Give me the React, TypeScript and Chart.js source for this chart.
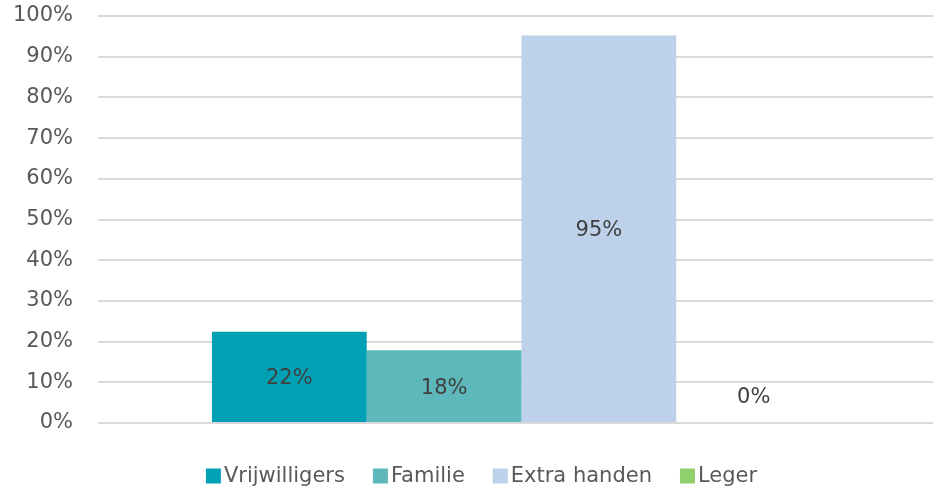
import React, { useEffect, useRef } from "react";
import { Chart, registerables } from "chart.js";

Chart.register(...registerables);

const categories = [""];
const seriesNames = ["Vrijwilligers", "Familie", "Extra handen", "Leger"];
const seriesValues = [22.4, 17.9, 95.2, 0];
const seriesLabels = ["22%", "18%", "95%", "0%"];
const seriesColors = ["#00A1B5", "#5DB7BB", "#BDD1EA", "#92D06E"];
const yTicks = [0, 10, 20, 30, 40, 50, 60, 70, 80, 90, 100];

const FONT = "'DejaVu Sans', Verdana, sans-serif";
const FONT_SIZE = 21;
const VIEW_W = 933;
const CANVAS_W = 945;
const H = 492;

const labelPlugin = {
  id: "barLabels",
  afterDatasetsDraw(chart: any) {
    const ctx = chart.ctx;
    ctx.save();
    ctx.font = `${FONT_SIZE}px ${FONT}`;
    ctx.fillStyle = "#404040";
    ctx.textAlign = "center";
    ctx.textBaseline = "middle";
    chart.data.datasets.forEach((ds: any, i: number) => {
      const meta = chart.getDatasetMeta(i);
      meta.data.forEach((bar: any) => {
        const { x, y, base } = bar.getProps(["x", "y", "base"], true);
        let cy = (y + base) / 2 + 2;
        if (base - y < 50) cy = Math.min(cy, base - 25);
        ctx.fillText(seriesLabels[i], x, cy);
      });
    });
    ctx.restore();
  },
};

const legendPlugin = {
  id: "bottomLegend",
  afterDraw(chart: any) {
    const ctx = chart.ctx;
    ctx.save();
    ctx.font = `${FONT_SIZE}px ${FONT}`;
    ctx.textBaseline = "middle";
    ctx.textAlign = "left";
    const box = 15;
    const gapBoxText = 3;
    const gapItems = 28;
    const items = chart.data.datasets.map((ds: any) => ({
      label: ds.label,
      color: ds.backgroundColor,
      w: ctx.measureText(ds.label).width,
    }));
    const total =
      items.reduce((s: number, it: any) => s + box + gapBoxText + it.w, 0) +
      gapItems * (items.length - 1);
    let x = VIEW_W / 2 + 15 - total / 2;
    const cy = 476;
    items.forEach((it: any) => {
      ctx.fillStyle = it.color;
      ctx.fillRect(x, cy - box / 2, box, box);
      x += box + gapBoxText;
      ctx.fillStyle = "#595959";
      ctx.fillText(it.label, x, cy + 1);
      x += it.w + gapItems;
    });
    ctx.restore();
  },
};

export default function App() {
  const ref = useRef<HTMLCanvasElement>(null);
  useEffect(() => {
    document.body.style.margin = "0";
    const chart = new Chart(ref.current!, {
      type: "bar",
      data: {
        labels: categories,
        datasets: seriesNames.map((name, i) => ({
          label: name,
          data: [seriesValues[i]],
          backgroundColor: seriesColors[i],
          borderWidth: 0,
          categoryPercentage: 0.731,
          barPercentage: 1,
        })),
      },
      options: {
        animation: false,
        responsive: false,
        maintainAspectRatio: false,
        layout: { padding: { left: 13, right: 0, top: 16, bottom: 69 } },
        plugins: {
          legend: { display: false },
          tooltip: { enabled: false },
        },
        scales: {
          x: {
            display: false,
          },
          y: {
            min: 0,
            max: 100,
            afterBuildTicks: (axis: any) => {
              axis.ticks = yTicks.map((v) => ({ value: v }));
            },
            afterFit: (axis: any) => {
              axis.paddingTop = 0;
              axis.paddingBottom = 0;
              axis.width = 85;
            },
            ticks: {
              font: { family: FONT, size: FONT_SIZE },
              color: "#595959",
              padding: 25,
              callback: (v: any) => `${v}%`,
            },
            grid: { color: "#D9D9D9", lineWidth: 2, drawTicks: false },
            border: { display: false },
          },
        },
      },
      plugins: [labelPlugin, legendPlugin],
    });
    return () => chart.destroy();
  }, []);
  return (
    <div
      style={{
        position: "absolute",
        left: 0,
        top: 0,
        width: VIEW_W,
        height: H,
        overflow: "hidden",
      }}
    >
      <canvas ref={ref} width={CANVAS_W} height={H} />
    </div>
  );
}
